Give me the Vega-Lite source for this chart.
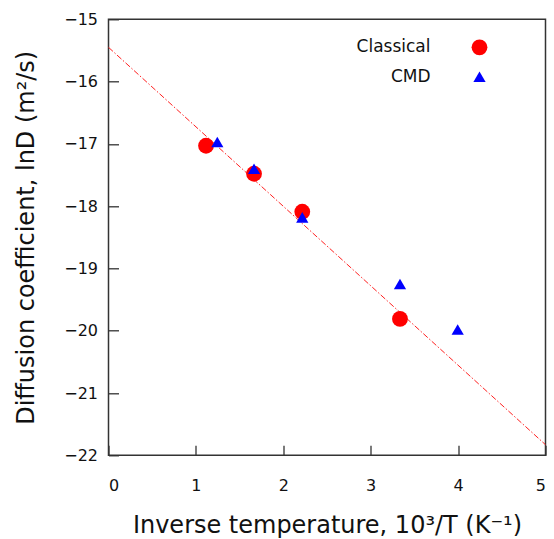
{
  "$schema": "https://vega.github.io/schema/vega-lite/v6.json",
  "width": 437,
  "height": 436,
  "autosize": {"type": "none"},
  "padding": {"left": 108.5, "top": 19.3, "right": 9, "bottom": 84},
  "background": "white",
  "config": {
    "font": "DejaVu Sans",
    "view": {"stroke": "#333", "strokeWidth": 1.5},
    "axis": {
      "grid": false,
      "domain": false,
      "tickSize": -10,
      "tickColor": "#333",
      "tickWidth": 1.3,
      "labelFont": "DejaVu Sans",
      "labelFontSize": 16,
      "labelColor": "#111",
      "titleFont": "DejaVu Sans",
      "titleFontSize": 24,
      "titleFontWeight": "normal",
      "titleColor": "#111"
    }
  },
  "encoding": {
    "x": {
      "field": "x", "type": "quantitative",
      "scale": {"domain": [0, 5], "nice": false, "zero": false},
      "axis": {
        "title": "Inverse temperature, 10³/T (K⁻¹)",
        "values": [0, 1, 2, 3, 4, 5],
        "format": "d",
        "labelPadding": 32,
        "labelDx": 3,
        "titlePadding": 20
      }
    },
    "y": {
      "field": "y", "type": "quantitative",
      "scale": {"domain": [-22, -15], "nice": false, "zero": false},
      "axis": {
        "title": "Diffusion coefficient, lnD (m²/s)",
        "values": [-22, -21, -20, -19, -18, -17, -16, -15],
        "format": "d",
        "labelPadding": 21,
        "titlePadding": 25
      }
    }
  },
  "layer": [
    {
      "data": {"values": [{"x": 0, "y": -15.45}, {"x": 5, "y": -21.83}]},
      "mark": {"type": "line", "color": "#ff2020", "strokeWidth": 1, "strokeDash": [6, 2, 1.5, 2]}
    },
    {
      "data": {
        "values": [
          {"series": "Classical", "x": 1.116, "y": -17.03},
          {"series": "Classical", "x": 1.665, "y": -17.48},
          {"series": "Classical", "x": 2.217, "y": -18.09},
          {"series": "Classical", "x": 3.335, "y": -19.81},
          {"series": "CMD", "x": 1.245, "y": -16.97},
          {"series": "CMD", "x": 1.665, "y": -17.4},
          {"series": "CMD", "x": 2.217, "y": -18.18},
          {"series": "CMD", "x": 3.335, "y": -19.25},
          {"series": "CMD", "x": 3.995, "y": -19.98}
        ]
      },
      "mark": {"type": "point", "filled": true, "opacity": 1},
      "encoding": {
        "color": {
          "field": "series", "type": "nominal",
          "scale": {"domain": ["Classical", "CMD"], "range": ["#ff0000", "#0000ff"]},
          "legend": {
            "title": null,
            "orient": "none",
            "legendX": 362,
            "legendY": 19,
            "labelFont": "DejaVu Sans",
            "labelFontSize": 17,
            "labelColor": "#111",
            "labelAlign": "right",
            "labelOffset": -58,
            "rowPadding": 12
          }
        },
        "shape": {
          "field": "series", "type": "nominal",
          "scale": {"domain": ["Classical", "CMD"], "range": ["circle", "triangle-up"]}
        },
        "size": {
          "field": "series", "type": "nominal",
          "scale": {"domain": ["Classical", "CMD"], "range": [250, 150]}
        }
      }
    }
  ]
}
